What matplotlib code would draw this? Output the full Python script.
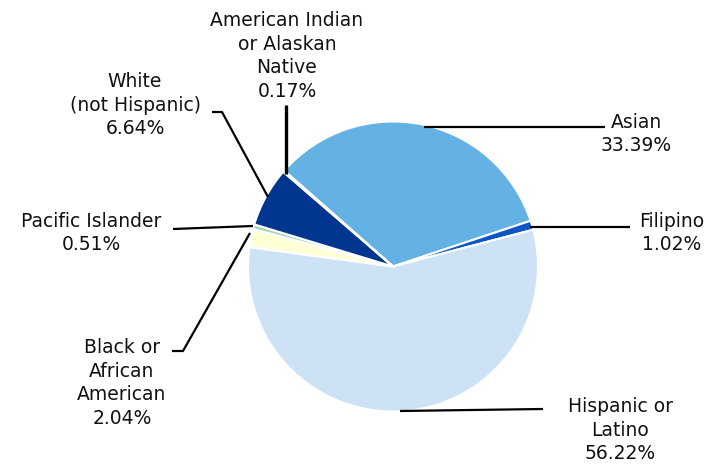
import matplotlib
matplotlib.use("Agg")
import matplotlib.pyplot as plt

categories = ["Asian", "Filipino", "Hispanic or\nLatino", "Black or\nAfrican\nAmerican",
              "Pacific Islander", "White\n(not Hispanic)", "American Indian\nor Alaskan\nNative"]
values = [33.39, 1.02, 56.22, 2.04, 0.51, 6.64, 0.17]
colors = ["#64B1E4", "#0B55C7", "#CEE2F6", "#FFFFD5", "#9FD6B5", "#00368F", "#4A8FD6"]

W, H = 709, 465
fig = plt.figure(figsize=(W / 100, H / 100), dpi=100)
ax = fig.add_axes([0, 0, 1, 1])

def Y(y):
    return H - y

cx, cy, r = 393, 266.5, 145
ax.pie(values, colors=colors, startangle=138.6, counterclock=False,
       center=(cx, Y(cy)), radius=r, frame=True,
       wedgeprops=dict(edgecolor="white", linewidth=1.5))
ax.set_xlim(0, W)
ax.set_ylim(0, H)
ax.set_aspect("equal")
ax.axis("off")

# label positions (pixel coords) and leader lines
label_pos = [(636, 134), (672, 233), (620, 430), (122, 383), (91, 233), (135, 105), (287, 56)]
leaders = [
    [(605, 127), (424, 127)],
    [(630, 227), (530, 227)],
    [(543, 409), (400, 411)],
    [(172, 351), (183, 351), (250, 233)],
    [(173, 229), (253, 226)],
    [(212, 112), (222, 112), (268, 197)],
    [(286, 105), (286, 174)],
]

for cat, v, (lx, ly), pts in zip(categories, values, label_pos, leaders):
    ax.text(lx, Y(ly), f"{cat}\n{v:.2f}%", ha="center", va="center",
            multialignment="center", fontsize=13.5, color="#111111",
            family="DejaVu Sans", linespacing=1.33)
    xs = [p[0] for p in pts]
    ys = [Y(p[1]) for p in pts]
    lw = 2.4 if cat.startswith("American") else 1.6
    ax.plot(xs, ys, color="black", lw=lw, solid_capstyle="butt")

fig.savefig("out.png", dpi=100)
